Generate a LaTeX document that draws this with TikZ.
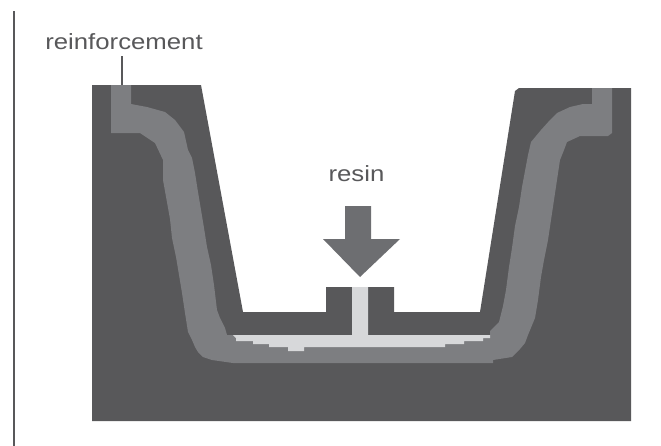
\documentclass[tikz,border=0pt]{standalone}
\usepackage{fontspec}
\setmainfont{Liberation Sans}[FakeStretch=1.17]
\definecolor{mold}{HTML}{58585A}
\definecolor{reinf}{HTML}{7D7E81}
\definecolor{resinc}{HTML}{D7D8DA}
\definecolor{arrowc}{HTML}{6D6E71}
\tikzset{
  lbl/.style={font=\fontsize{16.5pt}{18pt}\selectfont,text=mold,inner sep=0pt,anchor=base},
  moldshape/.style={fill=mold},
  reinfshape/.style={fill=reinf},
  resinshape/.style={fill=resinc},
  arrowshape/.style={fill=arrowc},
  rulel/.style={draw=mold,line width=1.5pt}
}
\begin{document}
\begin{tikzpicture}[x=0.75pt,y=-0.75pt]
\useasboundingbox (0,0) rectangle (661,446);
% mold
\path[moldshape] (92,85) -- (201,85) -- (243,312) -- (326,312) -- (326,287) -- (394,287) -- (394,312) -- (480,312)
  -- (515,91) -- (519,88) -- (631,88) -- (631,421) -- (92,421) -- cycle;
% reinforcement
\path[reinfshape] (111,85) -- (131,85) -- (131,104) -- (147,107) -- (165,112) -- (175,120) -- (184,132) -- (188,150)
  -- (192,158) -- (195,173) -- (198,192) -- (201,210) -- (204,228) -- (207,247) -- (211,265) -- (214,285) -- (217,310)
  -- (220,318) -- (225,328) -- (227,335) -- (490,335) -- (490,331) -- (499,322) -- (503,306) -- (506,290) -- (509,267)
  -- (512,248) -- (515,226) -- (519,207) -- (522,187) -- (525,171) -- (528,155) -- (531,142) -- (541,130) -- (550,120)
  -- (557,113) -- (570,107) -- (583,104) -- (592,104) -- (592,88) -- (612,88) -- (612,133) -- (608,136) -- (580,136)
  -- (567,142) -- (564,150) -- (560,160) -- (554,200) -- (548,240) -- (544,260) -- (541,277) -- (538,300) -- (535,318)
  -- (528,335) -- (525,343) -- (520,349) -- (512,357) -- (493,360) -- (493,363) -- (233,363) -- (212,360) -- (203,357)
  -- (198,352) -- (195,347) -- (192,340) -- (188,332) -- (185,313) -- (182,293) -- (179,275) -- (176,257) -- (172,238)
  -- (170,219) -- (163,180) -- (163,160) -- (155,143) -- (140,133) -- (111,133) -- cycle;
% resin
\path[resinshape] (352,287) -- (368,287) -- (368,335) -- (490,335) -- (490,338) -- (483,338) -- (483,341) -- (464,341) -- (464,344)
  -- (445,344) -- (445,347) -- (304,347) -- (304,351) -- (288,351) -- (288,347) -- (269,347) -- (269,344) -- (253,344)
  -- (253,341) -- (236,341) -- (236,338) -- (233,335) -- (352,335) -- cycle;
% injection arrow
\path[arrowshape] (345,206) -- (371,206) -- (371,239) -- (400,239) -- (360,277) -- (323,239) -- (345,239) -- cycle;
% frame rule
\coordinate (ruletop) at (14,11);
\coordinate (rulebot) at (14,446);
\draw[rulel] (ruletop) -- (rulebot);
% labels
\node[lbl] (reinflabel) at (124,50) {reinforcement};
\node[lbl] (resinlabel) at (356.5,181) {resin};
\coordinate (leadertop) at (122,56);
\coordinate (leaderend) at (122,85);
\draw[rulel] (leadertop) -- (leaderend);
\end{tikzpicture}
\end{document}
